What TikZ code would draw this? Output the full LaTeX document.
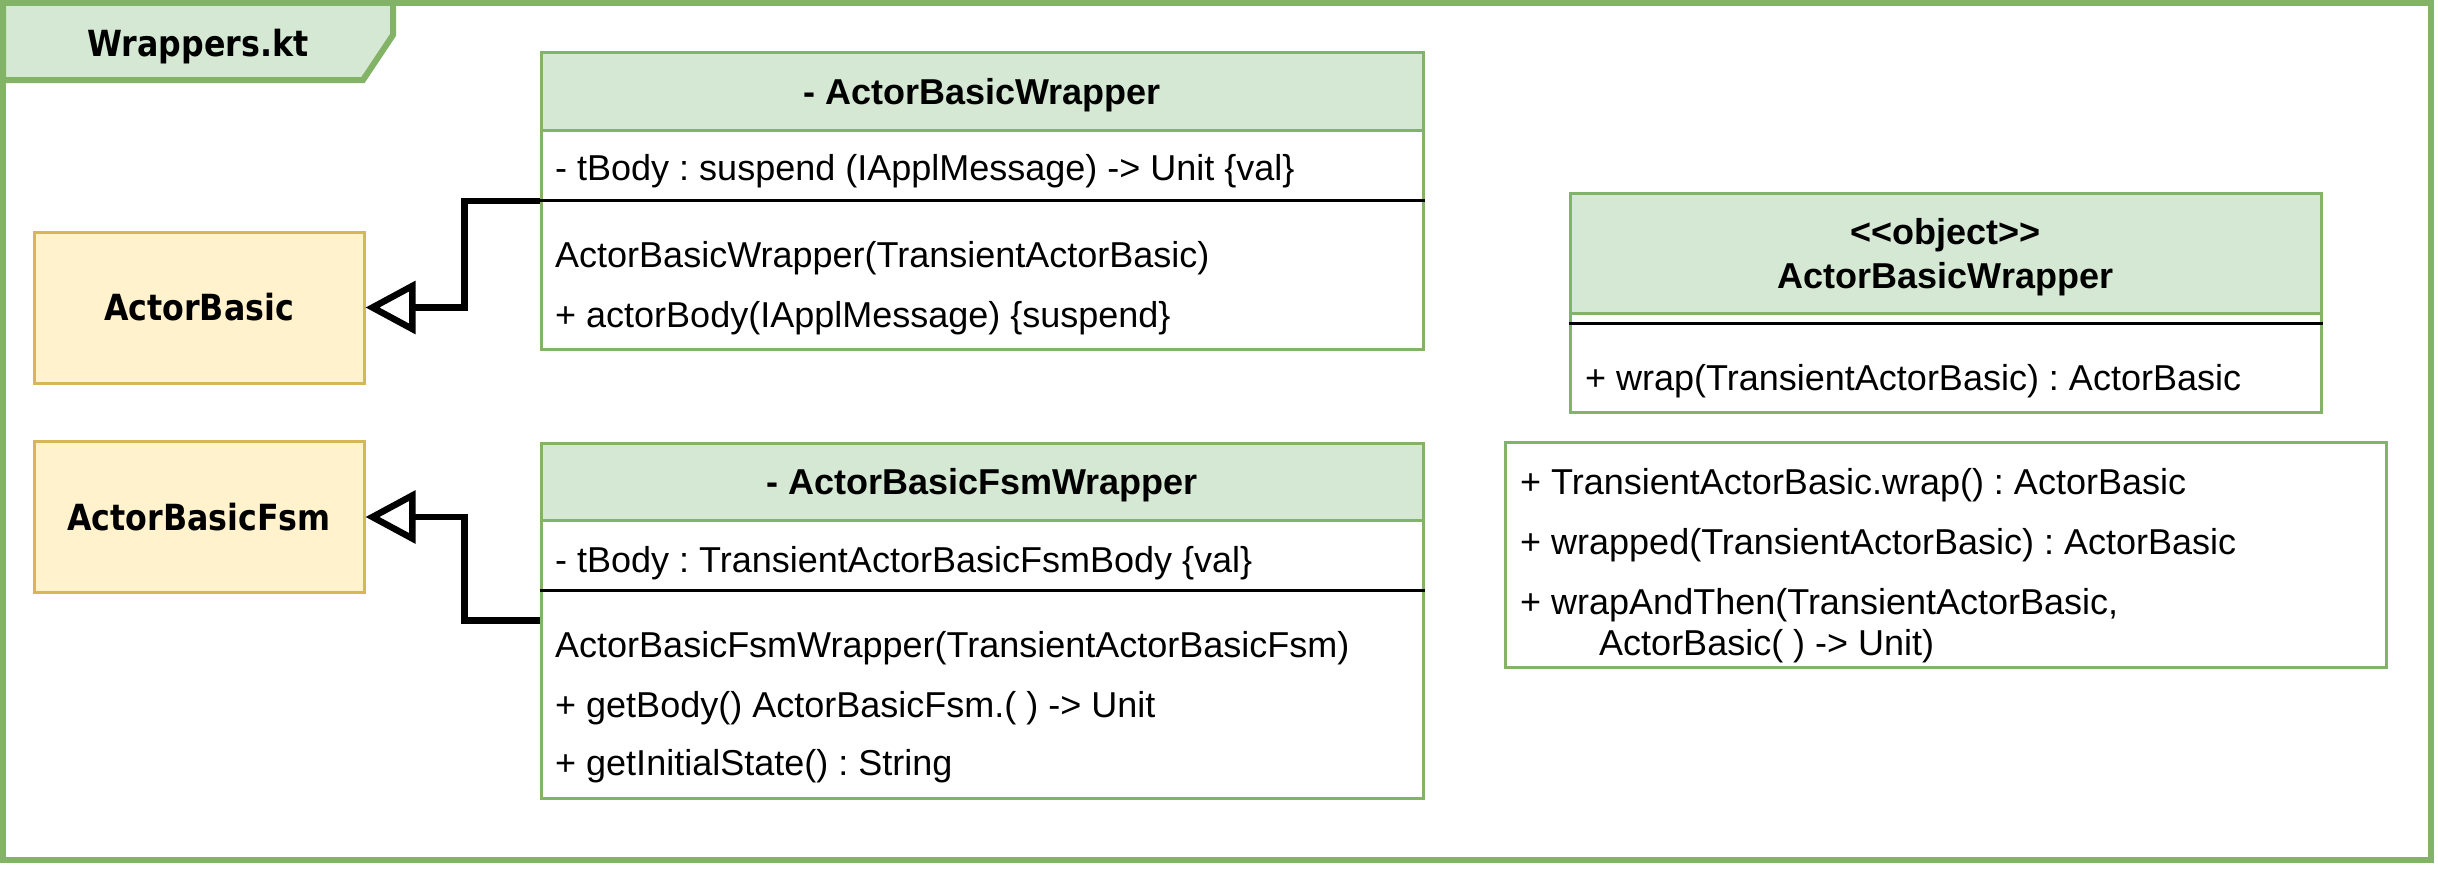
\documentclass[tikz,border=0pt]{standalone}
\usepackage{fontspec}
\usetikzlibrary{arrows.meta}
\newfontfamily\arialfont{Liberation Sans}
\newfontfamily\tahomafont[FakeStretch=0.88]{DejaVu Sans}
\definecolor{grnline}{HTML}{82B366}
\definecolor{grnfill}{HTML}{D5E8D4}
\definecolor{ylwline}{HTML}{D6B656}
\definecolor{ylwfill}{HTML}{FFF2CC}

\begin{document}
\begin{tikzpicture}[x=1pt, y=-1pt,
    frame/.style={draw=grnline, line width=6pt},
    tab/.style={draw=grnline, fill=grnfill, line width=6pt},
    tabtitle/.style={anchor=base, font=\tahomafont\bfseries\fontsize{36}{43}\selectfont},
    iface/.style={draw=ylwline, fill=ylwfill, line width=3pt, minimum width=330pt, minimum height=151pt, font=\tahomafont\bfseries\fontsize{36}{43}\selectfont},
    classbox/.style={draw=grnline, fill=white, line width=3pt, inner sep=0pt},
    classhead/.style={draw=grnline, fill=grnfill, line width=3pt, anchor=north, text height=26pt, text depth=0pt, font=\arialfont\bfseries\frenchspacing\fontsize{36}{44}\selectfont},
    member/.style={anchor=base west, inner sep=0pt, font=\arialfont\frenchspacing\fontsize{36}{43}\selectfont},
    sepline/.style={draw=black, line width=3pt},
    inherit/.style={line width=6.5pt, -{Triangle[open, length=50pt, width=52pt]}}]
    %--------------------%
    % Parameters
    %--------------------%
    \def\classw{882pt}
    \def\textx{555}
    \def\elbow{75}

    \useasboundingbox (0,0) rectangle (2438,875);

    %--------------------%
    % Package frame
    %--------------------%
    \draw[frame] (3,3) rectangle (2431,860);
    \draw[tab] (3,3) -- (393,3) -- (393,35) -- (363,80) -- (3,80) -- cycle;
    \node[tabtitle] (pkgname) at (198,57) {Wrappers.kt};

    %--------------------%
    % Base classes
    %--------------------%
    \node[iface] (basic) at (199,307.5) {ActorBasic};
    \node[iface] (basicfsm) at (199,517) {ActorBasicFsm};

    %--------------------%
    % ActorBasicWrapper
    %--------------------%
    \node[classbox, minimum width=\classw, minimum height=296pt] (wrapper) at (982,201) {};
    \node[classhead, minimum width=\classw, minimum height=77pt] (wrapperhd) at (wrapper.north) {- ActorBasicWrapper};
    \draw[sepline] ([yshift=-149pt]wrapper.north west) -- ([yshift=-149pt]wrapper.north east);
    \node[member] (wrapperattr) at (\textx,180) {- tBody : suspend (IApplMessage) -> Unit \{val\}};
    \node[member] (wrapperctor) at (\textx,267) {ActorBasicWrapper(TransientActorBasic)};
    \node[member] (wrapperbody) at (\textx,327) {+ actorBody(IApplMessage) \{suspend\}};

    %--------------------%
    % ActorBasicFsmWrapper
    %--------------------%
    \node[classbox, minimum width=\classw, minimum height=355pt] (fsmwrapper) at (982,620.5) {};
    \node[classhead, minimum width=\classw, minimum height=77pt] (fsmwrapperhd) at (fsmwrapper.north) {- ActorBasicFsmWrapper};
    \draw[sepline] ([yshift=-149pt]fsmwrapper.north west) -- ([yshift=-149pt]fsmwrapper.north east);
    \node[member] (fsmattr) at (\textx,572) {- tBody : TransientActorBasicFsmBody \{val\}};
    \node[member] (fsmctor) at (\textx,657) {ActorBasicFsmWrapper(TransientActorBasicFsm)};
    \node[member] (fsmbody) at (\textx,717) {+ getBody() ActorBasicFsm.( ) -> Unit};
    \node[member] (fsmstate) at (\textx,775) {+ getInitialState() : String};

    %--------------------%
    % object ActorBasicWrapper
    %--------------------%
    \node[classbox, minimum width=751pt, minimum height=219pt] (wrapobj) at (1945.5,302.5) {};
    \node[classhead, minimum width=751pt, minimum height=120pt, align=center, text height=70pt] (wrapobjhd) at (wrapobj.north) {{<}{<}object{>}{>}\\ActorBasicWrapper};
    \draw[sepline] ([yshift=-132pt]wrapobj.north west) -- ([yshift=-132pt]wrapobj.north east);
    \node[member] (wrapobjfun) at (1585,390) {+ wrap(TransientActorBasic) : ActorBasic};

    %--------------------%
    % Extension functions
    %--------------------%
    \node[classbox, minimum width=881pt, minimum height=225pt] (wrapext) at (1945.5,554.5) {};
    \node[member] (extwrap) at (1520,494) {+ TransientActorBasic.wrap() : ActorBasic};
    \node[member] (extwrapped) at (1520,554) {+ wrapped(TransientActorBasic) : ActorBasic};
    \node[member] (extthen) at (1520,614) {+ wrapAndThen(TransientActorBasic,};
    \node[member] (extthenb) at (1599,655) {ActorBasic( ) -> Unit)};

    %--------------------%
    % Inheritance
    %--------------------%
    \draw[inherit] (wrapper.west) -- ++(-\elbow,0) |- (basic.east);
    \draw[inherit] (fsmwrapper.west) -- ++(-\elbow,0) |- (basicfsm.east);

\end{tikzpicture}
\end{document}
